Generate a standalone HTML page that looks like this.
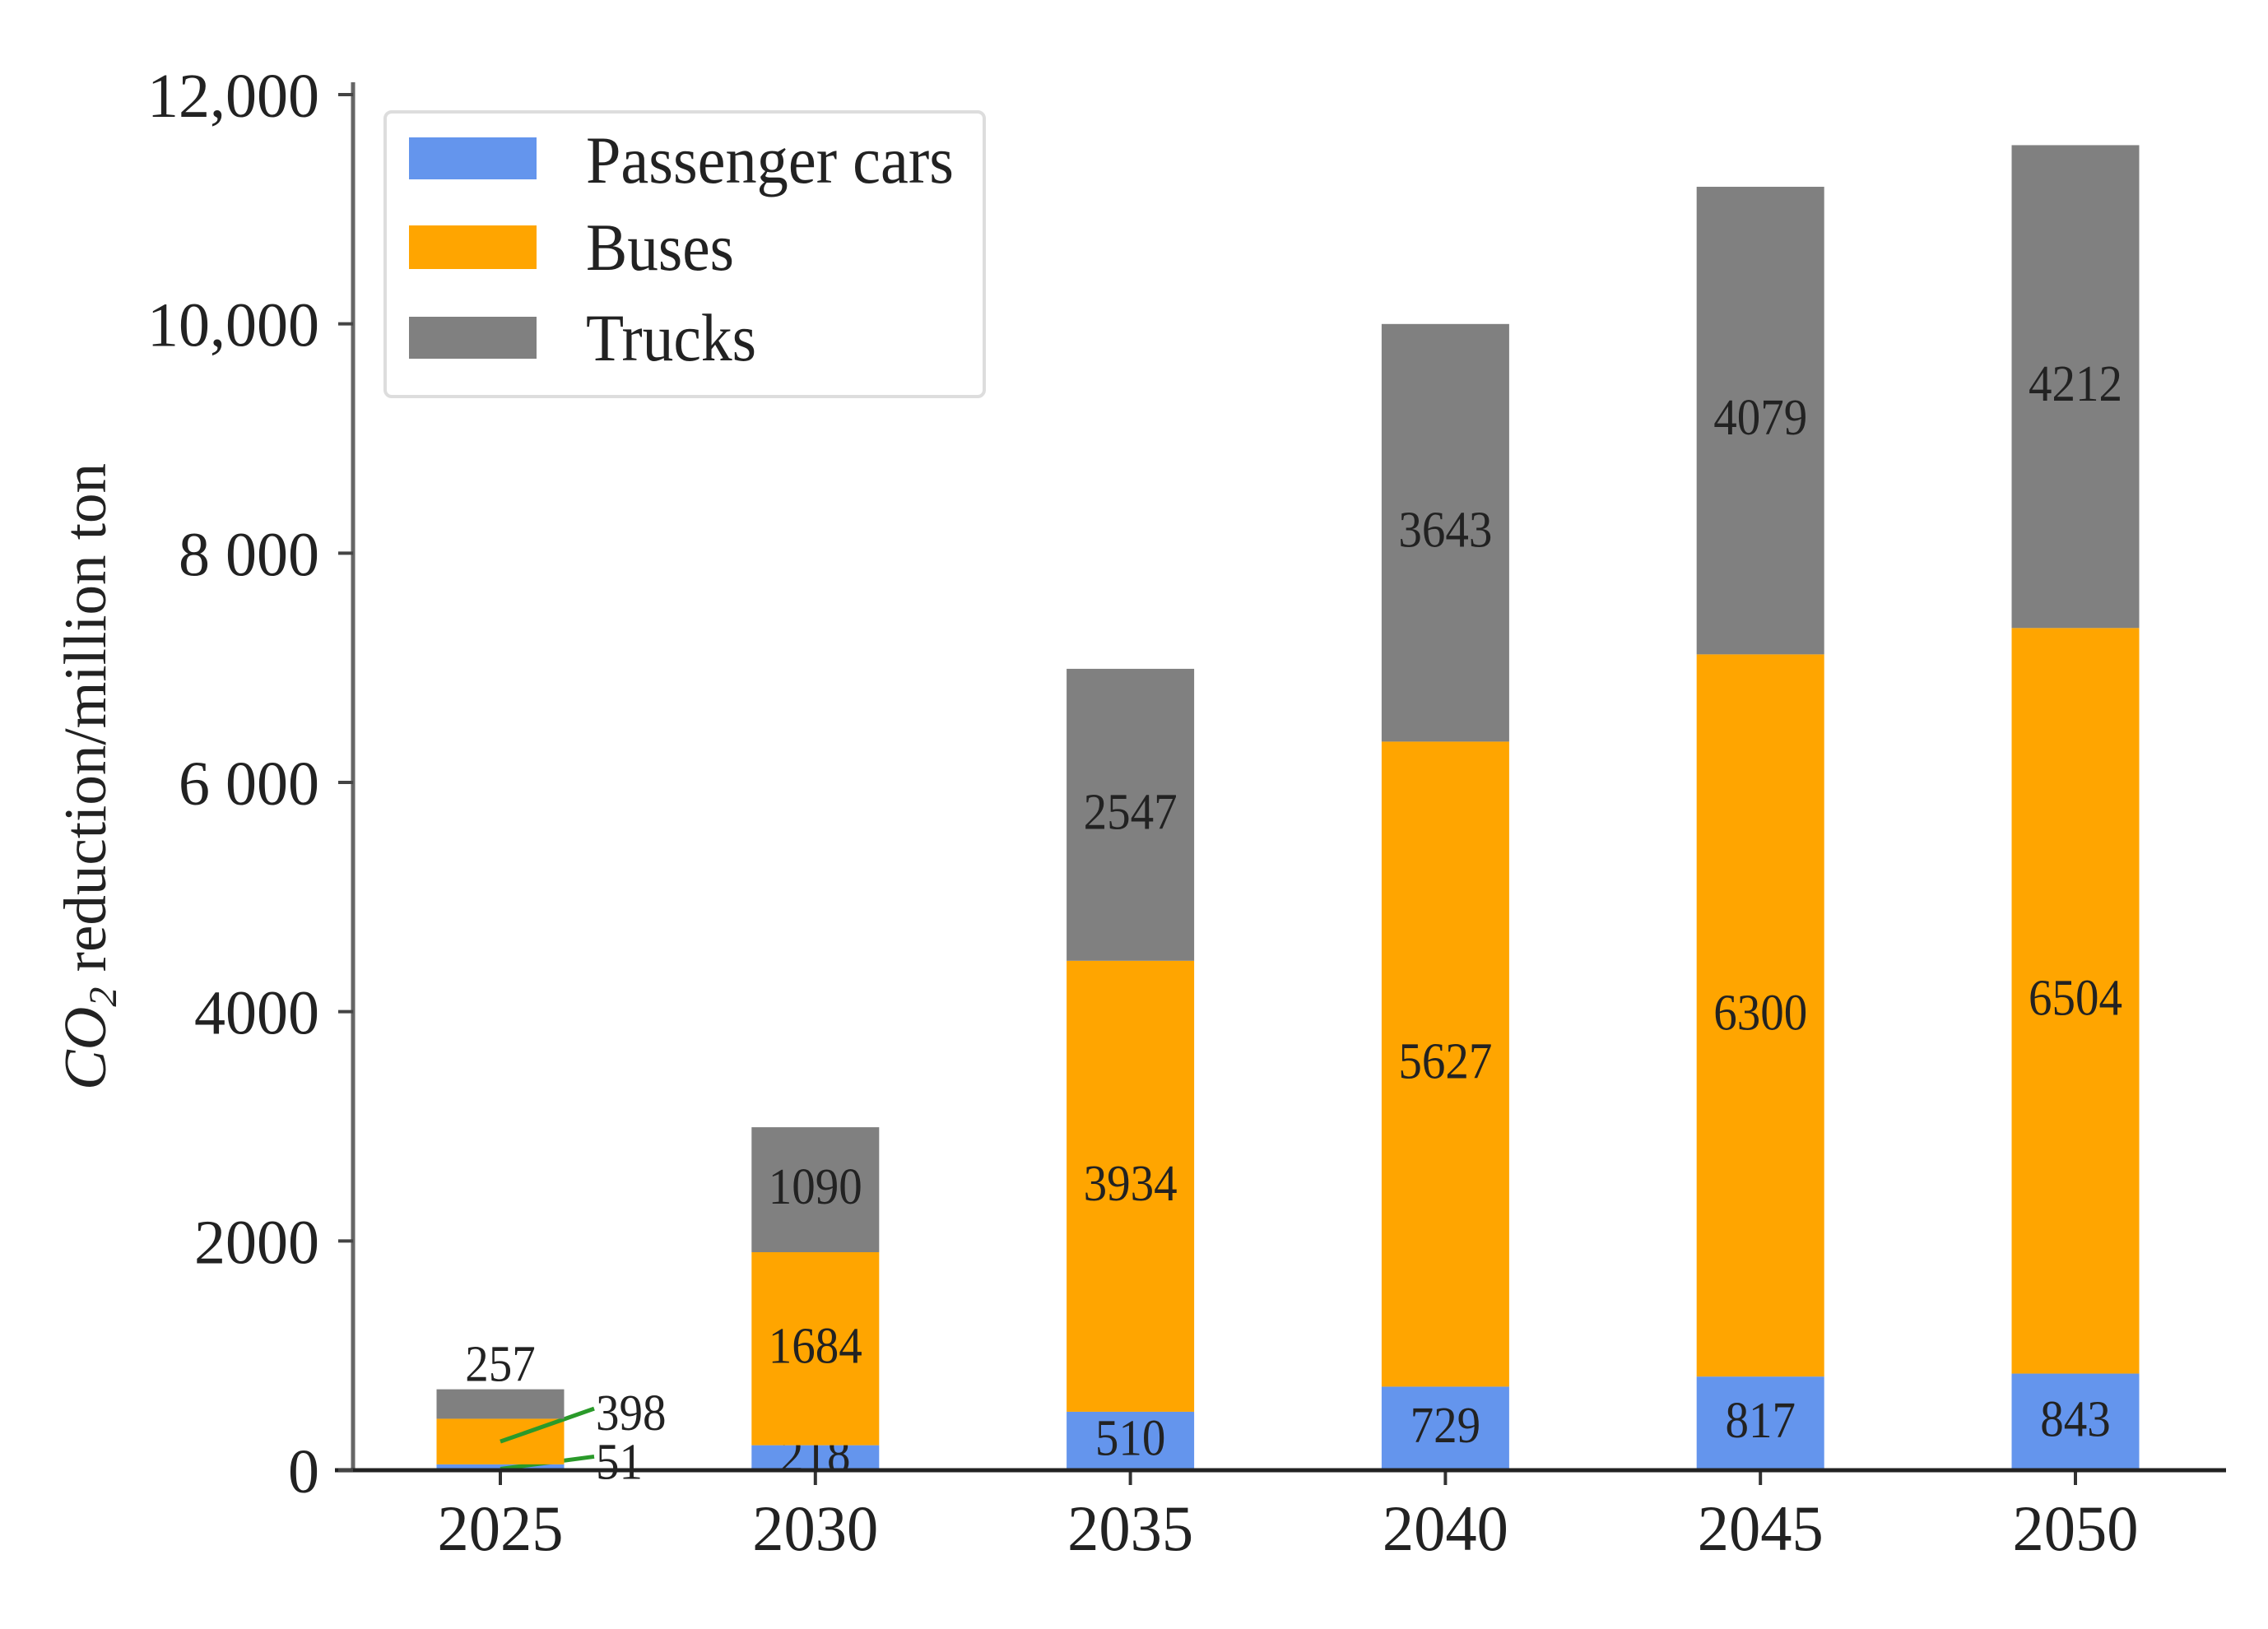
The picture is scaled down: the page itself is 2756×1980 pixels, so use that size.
<!DOCTYPE html>
<html><head><meta charset="utf-8"><style>
html,body{margin:0;padding:0;background:#fff;}
svg{display:block;font-family:"Liberation Serif",serif;}
</style></head><body>
<svg id="chart" width="2756" height="1980" viewBox="0 0 2756 1980" xmlns="http://www.w3.org/2000/svg">
<g id="bars"></g>
<g id="axes"></g>
<g id="legend">
  <rect x="468" y="136" width="728" height="346" rx="8" fill="#fff" stroke="#dddddd" stroke-width="4"/>
  <rect x="497" y="167" width="155" height="51" fill="#6495ed"/>
  <text x="712" y="222" font-size="82" fill="#222" textLength="447" lengthAdjust="spacingAndGlyphs">Passenger cars</text>
  <rect x="497" y="274" width="155" height="53" fill="#ffa500"/>
  <text x="712" y="328" font-size="82" fill="#222" textLength="180" lengthAdjust="spacingAndGlyphs">Buses</text>
  <rect x="497" y="385" width="155" height="51" fill="#808080"/>
  <text x="712" y="438" font-size="82" fill="#222" textLength="207" lengthAdjust="spacingAndGlyphs">Trucks</text>
</g>
<text transform="translate(128,944) rotate(-90)" text-anchor="middle" font-size="73" fill="#222"><tspan font-style="italic">CO</tspan><tspan font-size="48" dy="13" font-style="italic">2</tspan><tspan dy="-13"> reduction/million ton</tspan></text>
</svg>
<script>
const categories = ["2025","2030","2035","2040","2045","2050"];
const cars = [51,218,510,729,817,843];
const buses = [398,1684,3934,5627,6300,6504];
const trucks = [257,1090,2547,3643,4079,4212];
const yTicks = [0,2000,4000,6000,8000,10000,12000];
const yTickLabels = ["0","2000","4000","6 000","8 000","10,000","12,000"];

const NS = "http://www.w3.org/2000/svg";
const y0 = 1787, pxPerUnit = (1787-115)/12000;
const yScale = v => y0 - v*pxPerUnit;
const x0 = 608, step = (2522-608)/5, bw = 155;
const xScale = i => x0 + i*step;
function mk(tag, attrs, parent){ const e=document.createElementNS(NS,tag); for(const k in attrs) e.setAttribute(k,attrs[k]); parent.appendChild(e); return e; }
const bars = document.getElementById('bars');
const axes = document.getElementById('axes');
const series = [{vals:cars,color:"#6495ed",name:"cars"},{vals:buses,color:"#ffa500",name:"buses"},{vals:trucks,color:"#808080",name:"trucks"}];
categories.forEach((c,i)=>{
  let base = 0;
  series.forEach(s=>{
    const v = s.vals[i];
    const r = mk('rect',{x:xScale(i)-bw/2,y:yScale(base+v),width:bw,height:yScale(base)-yScale(base+v),fill:s.color},bars);
    
    
    let lx = xScale(i), ly = yScale(base+v/2)+17, anchor='middle';
    if(i===0){
      if(s.name==='trucks'){ ly = yScale(base+v)-10; }
      else if(s.name==='buses'){ lx = 724; ly = yScale(base+v/2)-14; anchor='start';
        const l=mk('line',{x1:xScale(i),y1:yScale(base+v/2),x2:722,y2:yScale(base+v/2)-40,stroke:'#2a9a2a','stroke-width':5},bars);
          }
      else { lx = 724; ly = yScale(base+v/2)+14; anchor='start';
        const l=mk('line',{x1:xScale(i),y1:yScale(base+v/2)+2,x2:722,y2:yScale(base+v/2)-13,stroke:'#2a9a2a','stroke-width':5},bars);
          }
    }
    const t = mk('text',{x:lx,y:ly,'text-anchor':anchor,'font-size':62,fill:'#222',textLength:String(v).length*28.5,lengthAdjust:'spacingAndGlyphs'},bars);
    t.textContent = v;
    
    
    base += v;
  });
  const tk = mk('line',{x1:xScale(i),y1:y0,x2:xScale(i),y2:y0+18,stroke:'#333','stroke-width':4},axes);
  
  
  const tl = mk('text',{x:xScale(i),y:1884,'text-anchor':'middle','font-size':78,fill:'#222',textLength:153,lengthAdjust:'spacingAndGlyphs'},axes);
  tl.textContent = c;
  
  
});
const ya = mk('line',{x1:429,y1:100,x2:429,y2:y0,stroke:'#666','stroke-width':5},axes);


const xa = mk('line',{x1:407,y1:y0,x2:2705,y2:y0,stroke:'#222','stroke-width':5},axes);


yTicks.forEach((v,j)=>{
  const tk = mk('line',{x1:411,y1:yScale(v),x2:429,y2:yScale(v),stroke:'#444','stroke-width':4},axes);
  
  
  const tl = mk('text',{x:388,y:yScale(v)+27,'text-anchor':'end','font-size':76,fill:'#222'},axes);
  tl.textContent = yTickLabels[j];
  
  
});
</script>
</body></html>
